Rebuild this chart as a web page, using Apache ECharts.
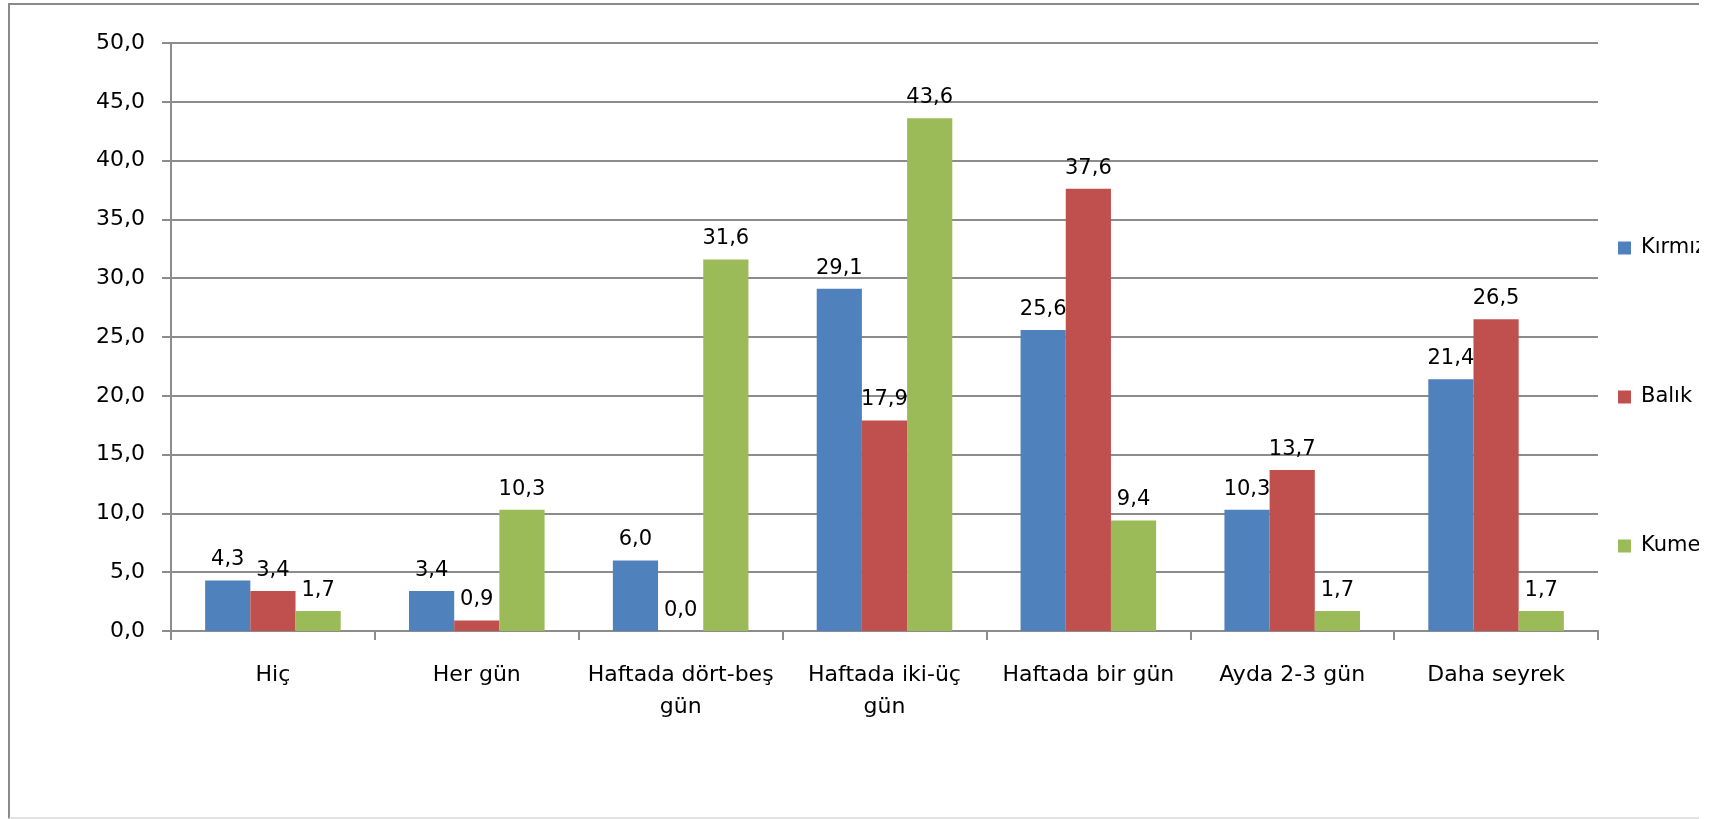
<!DOCTYPE html>
<html>
<head>
    <meta charset="utf-8">
    <title>Tüketim sıklığı</title>
    <script src="https://cdn.jsdelivr.net/npm/echarts@6/dist/echarts.min.js"></script>
    <style>
        html, body {
            margin: 0;
            padding: 0;
            background: #fff;
        }
        #wrap {
            position: absolute;
            left: 0;
            top: 0;
            width: 1699px;
            height: 819px;
            overflow: hidden;
        }
        #frame {
            position: absolute;
            left: 8px;
            top: 3px;
            width: 1800px;
            height: 812px;
            border-left: 2px solid #8a8a8a;
            border-top: 2px solid #8a8a8a;
            border-bottom: 2px solid #e2e2e2;
        }
        #main {
            position: absolute;
            left: 0;
            top: 0;
            width: 1699px;
            height: 819px;
        }
    </style>
</head>
<body>
<div id="wrap">
    <div id="frame"></div>
    <div id="main"></div>
</div>
<script>
    // kategoriler
    var categories = ['Hiç', 'Her gün', 'Haftada dört-beş\ngün', 'Haftada iki-üç\ngün',
        'Haftada bir gün', 'Ayda 2-3 gün', 'Daha seyrek'];
    var seriesNames = ['Kırmızı et', 'Balık', 'Kumes hayvanları'];
    var kirmizi = [4.3, 3.4, 6.0, 29.1, 25.6, 10.3, 21.4];
    var balik = [3.4, 0.9, 0.0, 17.9, 37.6, 13.7, 26.5];
    var kumes = [1.7, 10.3, 31.6, 43.6, 9.4, 1.7, 1.7];
    var colors = ['#4F81BD', '#C0504D', '#9BBB59'];

    var font = 'DejaVu Sans';
    var grayLine = '#8c8c8c';

    function fmt(v) {
        return Number(v).toFixed(1).replace('.', ',');
    }

    function makeSeries(name, data, color) {
        return {
            name: name,
            type: 'bar',
            data: data,
            barGap: '0%',
            barCategoryGap: '33.5%',
            itemStyle: {color: color},
            label: {
                show: true,
                position: 'top',
                distance: 10,
                fontFamily: font,
                fontSize: 21,
                color: '#000',
                formatter: function (p) { return fmt(p.value); }
            }
        };
    }

    var myChart = echarts.init(document.getElementById('main'));
    myChart.setOption({
        animation: false,
        color: colors,
        grid: {left: 171, right: 101, top: 43, bottom: 188},
        legend: {
            orient: 'vertical',
            left: 1613,
            top: 231,
            itemWidth: 13,
            itemHeight: 13,
            itemGap: 125,
            icon: 'rect',
            data: seriesNames,
            textStyle: {
                fontFamily: font,
                fontSize: 21,
                lineHeight: 24,
                color: '#000',
                padding: [0, 0, 0, 5]
            }
        },
        xAxis: {
            type: 'category',
            data: categories,
            axisLine: {lineStyle: {color: grayLine, width: 2}},
            axisTick: {show: true, length: 9, lineStyle: {color: grayLine, width: 2}},
            axisLabel: {
                margin: 28,
                fontFamily: font,
                fontSize: 22,
                lineHeight: 32,
                color: '#000',
                interval: 0
            }
        },
        yAxis: {
            type: 'value',
            min: 0,
            max: 50,
            interval: 5,
            axisLine: {show: true, lineStyle: {color: grayLine, width: 2}},
            axisTick: {show: true, length: 9, lineStyle: {color: grayLine, width: 2}},
            splitLine: {lineStyle: {color: grayLine, width: 2}},
            axisLabel: {
                margin: 26,
                fontFamily: font,
                fontSize: 22,
                color: '#000',
                formatter: fmt
            }
        },
        series: [
            makeSeries(seriesNames[0], kirmizi, colors[0]),
            makeSeries(seriesNames[1], balik, colors[1]),
            makeSeries(seriesNames[2], kumes, colors[2])
        ]
    });
</script>
</body>
</html>
